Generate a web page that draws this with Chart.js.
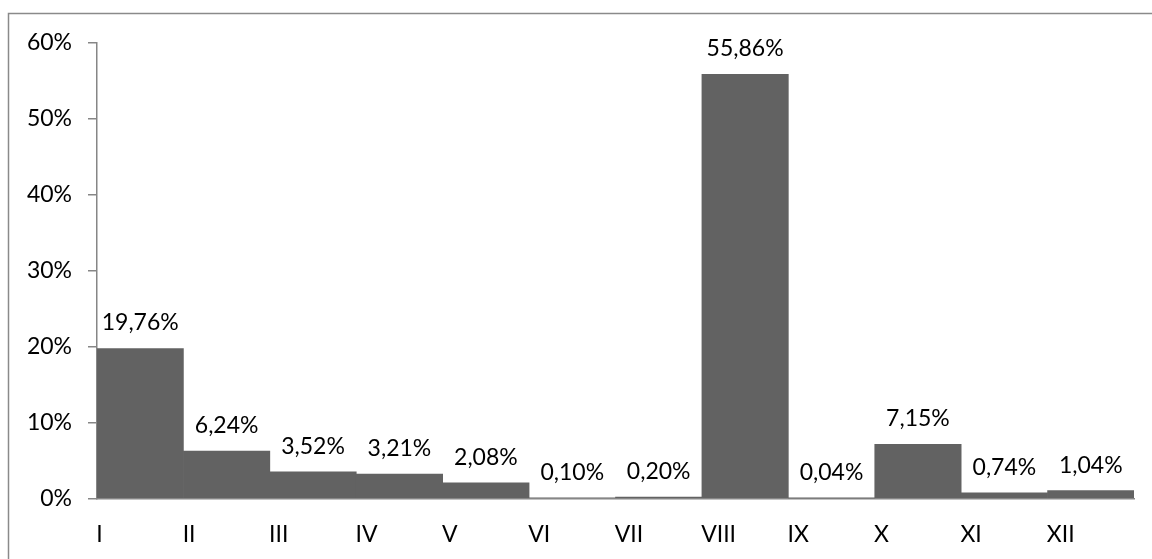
<!DOCTYPE html>
<html>
<head>
<meta charset="utf-8">
<script src="https://cdn.jsdelivr.net/npm/chart.js@4/dist/chart.umd.min.js"></script>
<style>
html,body{margin:0;padding:0;background:#fff;}
canvas{display:block;}
</style>
</head>
<body>
<canvas id="c" width="1152" height="559"></canvas>
<script>
const categories = ['I','II','III','IV','V','VI','VII','VIII','IX','X','XI','XII'];
const values = [19.76, 6.24, 3.52, 3.21, 2.08, 0.10, 0.20, 55.86, 0.04, 7.15, 0.74, 1.04];
const yTickValues = [0, 10, 20, 30, 40, 50, 60];

const FONT_FAMILY = "Lato, 'Open Sans', sans-serif";
Chart.defaults.font.family = FONT_FAMILY;
Chart.defaults.font.size = 23;
Chart.defaults.color = '#000';

const frame = {
  id: 'frame',
  beforeDraw(chart) {
    const ctx = chart.ctx;
    ctx.save();
    ctx.fillStyle = '#fff';
    ctx.fillRect(0, 0, chart.width, chart.height);
    ctx.strokeStyle = '#8a8a8a';
    ctx.lineWidth = 1.5;
    ctx.strokeRect(8.5, 13.5, 1400, 800);
    ctx.restore();
  }
};

const dataLabels = {
  id: 'dataLabels',
  afterDatasetsDraw(chart) {
    const ctx = chart.ctx;
    const meta = chart.getDatasetMeta(0);
    ctx.save();
    ctx.font = "23px " + FONT_FAMILY;
    ctx.fillStyle = '#000';
    ctx.textAlign = 'center';
    ctx.textBaseline = 'alphabetic';
    meta.data.forEach((bar, i) => {
      const txt = values[i].toFixed(2).replace('.', ',') + '%';
      ctx.fillText(txt, bar.x, bar.y - 18);
    });
    ctx.restore();
  }
};

new Chart(document.getElementById('c'), {
  type: 'bar',
  data: {
    labels: categories,
    datasets: [{
      data: values,
      backgroundColor: '#626262',
      borderWidth: 0,
      barPercentage: 1.0,
      categoryPercentage: 1.0
    }]
  },
  options: {
    responsive: false,
    animation: false,
    layout: { padding: { left: 0, right: 18, top: 43, bottom: 0 } },
    plugins: { legend: { display: false }, tooltip: { enabled: false } },
    scales: {
      x: {
        offset: true,
        grid: { display: false, drawTicks: false },
        border: { display: true, color: '#868686', width: 1.5 },
        ticks: {
          align: 'start',
          labelOffset: -44,
          padding: 22,
          maxRotation: 0,
          autoSkip: false
        },
        afterFit(scale) { scale.height = 60.5; }
      },
      y: {
        min: 0,
        max: 60,
        afterBuildTicks(scale) { scale.ticks = yTickValues.map(v => ({ value: v })); },
        grid: { display: true, drawOnChartArea: false, drawTicks: true, tickLength: 9, color: '#868686', lineWidth: 1.5 },
        border: { display: true, color: '#868686', width: 1.5 },
        ticks: {
          padding: 16,
          callback: v => v + '%'
        },
        afterFit(scale) { scale.width = 97; }
      }
    }
  },
  plugins: [frame, dataLabels]
});
</script>
</body>
</html>
